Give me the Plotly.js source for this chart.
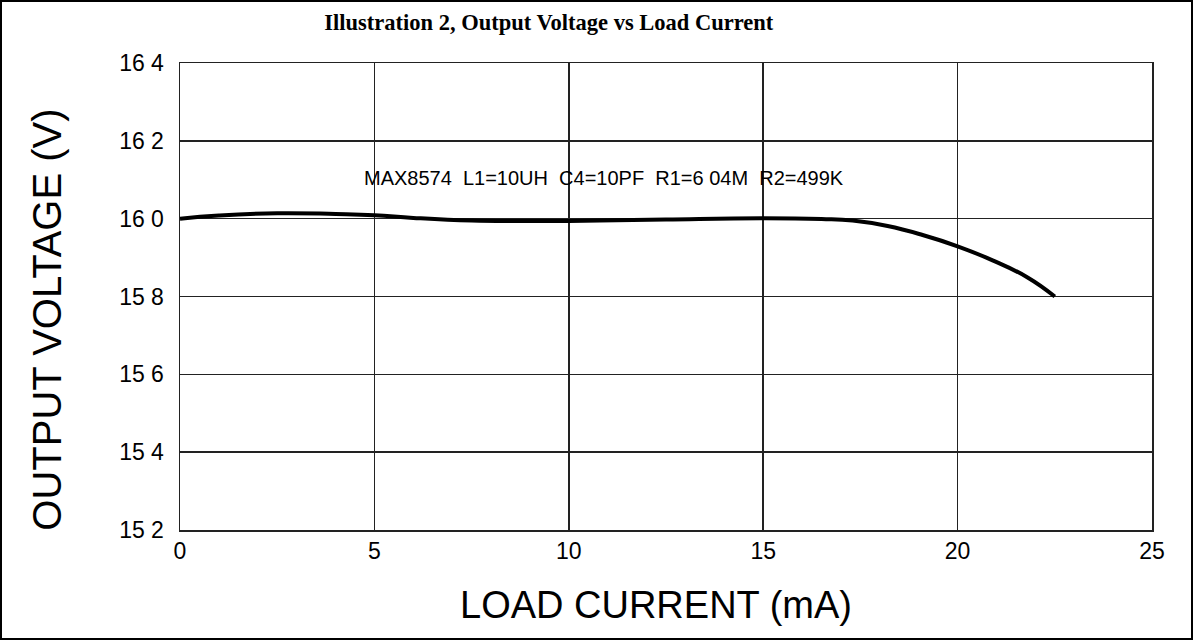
<!DOCTYPE html>
<html>
<head>
<meta charset="utf-8">
<script src="https://cdn.plot.ly/plotly-3.0.1.min.js"></script>
<style>
html,body{margin:0;padding:0;background:#fff;}
#wrap{position:relative;width:1193px;height:640px;}
#chart{position:absolute;left:0;top:0;width:1193px;height:640px;}
#frame{position:absolute;left:0;top:0;width:1193px;height:640px;box-sizing:border-box;border:2px solid #000;pointer-events:none;}
</style>
</head>
<body>
<div id="wrap"><div id="chart"></div><div id="frame"></div></div>
<script>
// Data
const loadCurrent = [0, 1, 2.5, 4, 5, 6, 7.5, 9, 10, 12.5, 15, 16.5, 17.3, 18.2, 19.1, 20.0, 20.9, 21.8, 22.5];
const outputVoltage = [16.000, 16.008, 16.014, 16.012, 16.009, 16.002, 15.995, 15.994, 15.994, 15.998, 16.001, 15.999, 15.995, 15.981, 15.958, 15.929, 15.893, 15.849, 15.800];
const yTickVals = [15.2, 15.4, 15.6, 15.8, 16.0, 16.2, 16.4];
const yTickText = ['15 2', '15 4', '15 6', '15 8', '16 0', '16 2', '16 4'];
const xTickVals = [0, 5, 10, 15, 20, 25];
const xTickText = ['0', '5', '10', '15', '20', '25'];
const chartTitle = 'Illustration 2, Output Voltage vs Load Current';
const xTitle = 'LOAD CURRENT (mA)';
const yTitle = 'OUTPUT VOLTAGE (V)';
const noteText = 'MAX8574  L1=10UH  C4=10PF  R1=6 04M  R2=499K';

const sans = 'Liberation Sans, Arial, sans-serif';
const trace = {
  x: loadCurrent, y: outputVoltage, type: 'scatter', mode: 'lines',
  line: {color: '#000', width: 4, shape: 'spline', smoothing: 1.3}, hoverinfo: 'skip'
};
const gridC = '#222';
const layout = {
  width: 1193, height: 640,
  margin: {l: 180, r: 41, t: 63, b: 110},
  paper_bgcolor: '#fff', plot_bgcolor: '#fff',
  showlegend: false,
  title: {text: '<b>' + chartTitle + '</b>', font: {family: 'Liberation Serif, Times New Roman, serif', size: 22.5, color: '#000'},
          x: 0.46, xanchor: 'center', y: 0.966, yanchor: 'middle'},
  xaxis: {range: [0, 25], tickvals: xTickVals, ticktext: xTickText, showgrid: true, gridcolor: gridC, gridwidth: 1.5,
          zeroline: false, showline: true, linecolor: gridC, linewidth: 1.5, mirror: true, ticks: '',
          tickfont: {family: sans, size: 23, color: '#000'}, fixedrange: true},
  yaxis: {range: [15.2, 16.4], tickvals: yTickVals, ticktext: yTickText, showgrid: true, gridcolor: gridC, gridwidth: 1.5,
          zeroline: false, showline: true, linecolor: gridC, linewidth: 1.5, mirror: true, ticks: 'outside', ticklen: 10, tickcolor: 'rgba(0,0,0,0)',
          tickfont: {family: sans, size: 23, color: '#000'}, fixedrange: true},
  annotations: [
    {text: noteText, xref: 'x', yref: 'y', x: 4.68, y: 16.104, xanchor: 'left', yanchor: 'middle', showarrow: false,
     font: {family: sans, size: 20, color: '#000'}},
    {text: xTitle, xref: 'paper', yref: 'paper', x: 0.49, y: -0.16, xanchor: 'center', yanchor: 'middle', showarrow: false,
     font: {family: sans, size: 38, color: '#000'}},
    {text: yTitle, xref: 'paper', yref: 'paper', x: -0.137, y: 0.45, xanchor: 'center', yanchor: 'middle', showarrow: false, textangle: -90,
     font: {family: sans, size: 40, color: '#000'}}
  ]
};
Plotly.newPlot('chart', [trace], layout, {displayModeBar: false, staticPlot: true});
</script>
</body>
</html>
